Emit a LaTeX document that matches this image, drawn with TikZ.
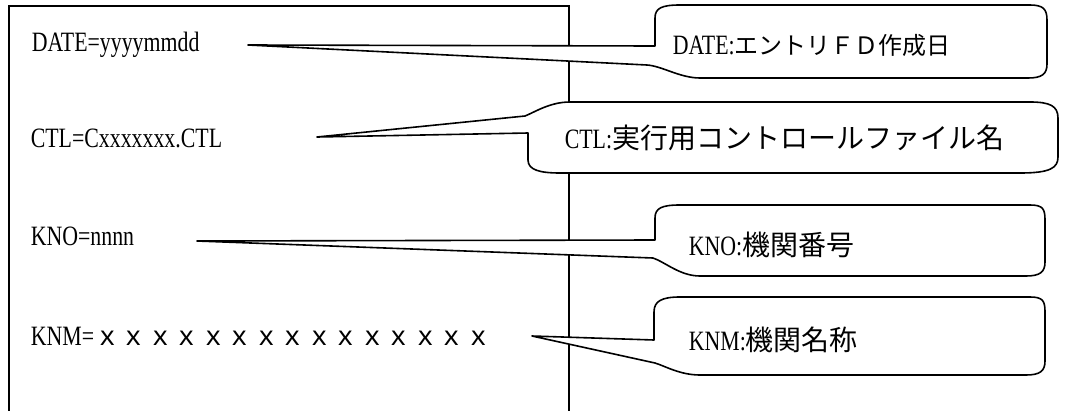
\documentclass[tikz,border=0pt]{standalone}
\usepackage{fontspec}
\setmainfont{Liberation Serif}[FakeStretch=0.78]
\newfontfamily\jp{Noto Sans CJK JP}
\usepackage{tikz}

\begin{document}
\begin{tikzpicture}[x=1pt,y=-1pt,line width=1.6pt,
  field/.style={anchor=base west,inner sep=0pt,font=\fontsize{28}{30}\selectfont},
  notetext/.style={anchor=west,inner sep=0pt,font=\fontsize{28}{30}\selectfont},
  callout/.style={draw,fill=white,line join=round}]
  \useasboundingbox (0,0) rectangle (1066,410);
  % Record box (runs off the bottom)
  \draw (9,412) -- (9,6) -- (569,6) -- (569,412);
  % Record lines
  \node[field] (date) at (31,51) {DATE=yyyymmdd};
  \node[field] (ctl) at (30,147) {CTL=Cxxxxxxx.CTL};
  \node[field] (kno) at (30,245) {KNO=nnnn};
  \node[field] (knm) at (30,345) {KNM={\jp\fontsize{26.5}{28}\selectfont ｘｘｘｘｘｘｘｘｘｘｘｘｘｘｘ}};
  % Pointer tips
  \coordinate (datetip) at (248,45);
  \coordinate (ctltip) at (317,137);
  \coordinate (knotip) at (197,241);
  \coordinate (knmtip) at (532,336);
  % DATE callout
  \draw[callout] (655,46) -- (655,18) .. controls (655,8) and (662,5) .. (680,5)
    -- (1030,5) .. controls (1043,5) and (1047,9) .. (1047,20)
    -- (1047,64) .. controls (1047,74) and (1042,78) .. (1028,78)
    -- (700,78) .. controls (680,78) and (662,66) .. (647,65) -- (datetip) -- cycle;
  % CTL callout
  \draw[callout] (528,133) -- (528,160) .. controls (528,170) and (540,173) .. (560,173)
    -- (1020,173) .. controls (1050,173) and (1058,168) .. (1058,157)
    -- (1058,118) .. controls (1058,106) and (1050,102) .. (1030,102)
    -- (570,102) .. controls (550,102) and (535,112) .. (525,116) -- (ctltip) -- cycle;
  % KNO callout
  \draw[callout] (655,240) -- (655,218) .. controls (655,208) and (662,205) .. (680,205)
    -- (1030,205) .. controls (1043,205) and (1045,209) .. (1045,220)
    -- (1045,262) .. controls (1045,272) and (1040,276) .. (1026,276)
    -- (700,276) .. controls (680,276) and (665,262) .. (653,258) -- (knotip) -- cycle;
  % KNM callout
  \draw[callout] (654,340) -- (654,312) .. controls (654,301) and (662,297) .. (680,297)
    -- (1030,297) .. controls (1043,297) and (1045,301) .. (1045,312)
    -- (1045,361) .. controls (1045,371) and (1040,375) .. (1026,375)
    -- (700,375) .. controls (680,375) and (665,366) .. (655,363) -- (knmtip) -- cycle;
  % Callout texts
  \node[notetext] (datenote) at (672,45) {DATE:{\jp\fontsize{24}{28}\selectfont エントリＦＤ作成日}};
  \node[notetext] (ctlnote) at (564,138) {CTL:{\jp\fontsize{28}{28}\selectfont 実行用コントロールファイル名}};
  \node[notetext] (knonote) at (688,245) {KNO:{\jp\fontsize{28}{28}\selectfont 機関番号}};
  \node[notetext] (knmnote) at (688,340) {KNM:{\jp\fontsize{28}{28}\selectfont 機関名称}};
\end{tikzpicture}
\end{document}
